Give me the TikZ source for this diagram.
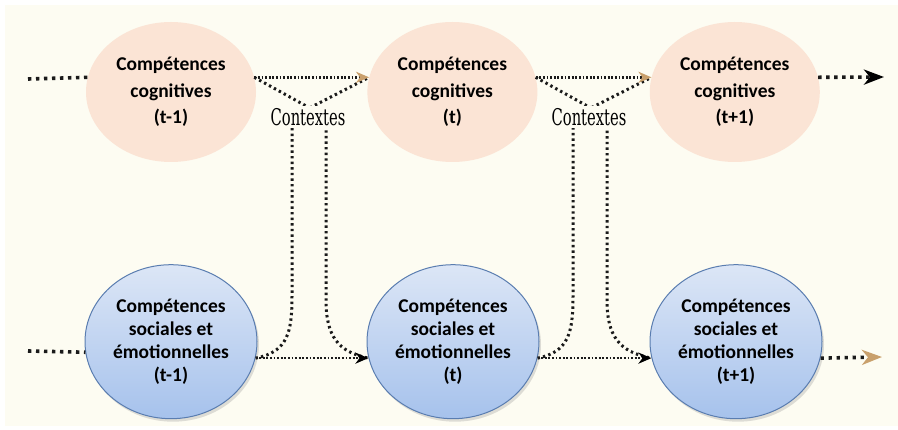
\documentclass[tikz,border=0pt]{standalone}
\usepackage{fontspec}
\setsansfont{Carlito}
\newfontfamily\ctxfont[FakeStretch=0.64]{DejaVu Serif}
\usetikzlibrary{arrows.meta,positioning,shapes.geometric,shadows}
\definecolor{bgcream}{HTML}{FDFCF2}
\definecolor{cogpeach}{HTML}{FBE4D5}
\definecolor{soctop}{HTML}{DCE6F6}
\definecolor{socbottom}{HTML}{A6C2EC}
\definecolor{socedge}{HTML}{5A7DB0}
\definecolor{tiptan}{HTML}{C9A06C}
\definecolor{dotink}{HTML}{1A1A1A}

\begin{document}
\begin{tikzpicture}[
    x=1pt, y=-1pt,
    cogbox/.style={ellipse,fill=cogpeach,inner sep=0pt,
      minimum width=170pt,minimum height=140pt,align=center,
      font=\sffamily\bfseries\fontsize{19.5}{26.5}\selectfont},
    socbox/.style={ellipse,draw=socedge,line width=1pt,top color=soctop,bottom color=socbottom,
      inner sep=0pt,minimum width=172pt,minimum height=154pt,align=center,
      drop shadow={shadow xshift=2pt,shadow yshift=-3pt,opacity=0.25},
      font=\sffamily\bfseries\fontsize{19.5}{22.7}\selectfont},
    ctxbox/.style={fill=bgcream,inner sep=2pt,font=\ctxfont\fontsize{23}{23}\selectfont},
    stub/.style={draw=dotink,line width=3.6pt,dash pattern=on 3.4pt off 4.6pt},
    link/.style={draw=dotink,line width=2.6pt,dash pattern=on 1.8pt off 1.8pt},
    crosslink/.style={draw=dotink,line width=3pt,dash pattern=on 2.4pt off 3.2pt},
    smalltip/.style={-{Stealth[length=13pt,width=11pt,inset=4pt,color=#1]}},
    bigtip/.style={-{Stealth[length=20pt,width=15pt,inset=6pt,color=#1]}}
  ]
    \useasboundingbox (0,0) rectangle (898,430);
    \fill[white] (0,0) rectangle (898,430);
    \fill[bgcream] (5,5) rectangle (898,426);

    % ellipses
    \node[cogbox] (cog1) at (171,92) {Compétences\\cognitives\\(t-1)};
    \node[cogbox,right=111pt of cog1] (cog2) {Compétences\\cognitives\\(t)};
    \node[cogbox,right=112pt of cog2] (cog3) {Compétences\\cognitives\\(t+1)};
    \node[socbox,below=102pt of cog1] (soc1) {Compétences\\sociales et\\émotionnelles\\(t-1)};
    \node[socbox,right=109pt of soc1] (soc2) {Compétences\\sociales et\\émotionnelles\\(t)};
    \node[socbox,right=110pt of soc2] (soc3) {Compétences\\sociales et\\émotionnelles\\(t+1)};

    \coordinate (inC) at (28,79);
    \coordinate (inS) at (28,351);
    \coordinate (outC) at (884,77);
    \coordinate (outS) at (882,357);

    % outer stubs
    \draw[stub] (inC) -- (cog1.170);
    \draw[stub] (inS) -- (soc1.187);
    \draw[stub,bigtip=black] (cog3.10) -- (outC);
    \draw[stub,bigtip=tiptan] (soc3.-11) -- (outS);

    % crossing paths through the contexts
    \draw[crosslink] (cog1.10) -- (326,117) -- (326,300) .. controls (326,336) and (338,352) .. (soc2.191);
    \draw[crosslink] (soc1.-11) .. controls (288,352) and (292,332) .. (292,296) -- (292,117) -- (cog2.170);
    \draw[crosslink] (cog2.10) -- (607,117) -- (607,300) .. controls (607,336) and (619,352) .. (soc3.191);
    \draw[crosslink] (soc2.-11) .. controls (569,352) and (573,332) .. (573,296) -- (573,117) -- (cog3.170);

    % straight links
    \draw[link,smalltip=tiptan] (cog1.10) -- (cog2.170);
    \draw[link,smalltip=tiptan] (cog2.10) -- (cog3.170);
    \draw[link,smalltip=black] (soc1.-11) -- (soc2.191);
    \draw[link,smalltip=black] (soc2.-11) -- (soc3.191);

    \node[ctxbox] (ctx1) at (308,117) {Contextes};
    \node[ctxbox] (ctx2) at (589,117) {Contextes};
\end{tikzpicture}
\end{document}
